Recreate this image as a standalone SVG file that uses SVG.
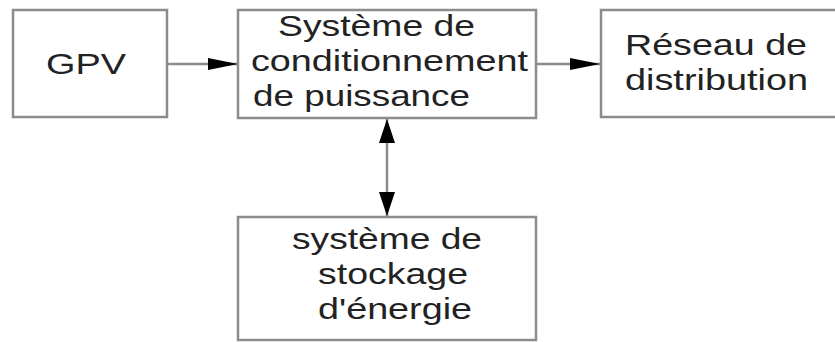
<svg xmlns="http://www.w3.org/2000/svg" width="835" height="342" viewBox="0 0 835 342">
<style>
.box{fill:#ffffff;stroke:#8c8c8c;stroke-width:2.5}
.t{font-family:"Liberation Sans",Arial,sans-serif;font-size:29px;fill:#222222}
.ln{stroke:#8c8c8c;stroke-width:2.5;fill:none}
</style>
<defs>
<marker id="ah" markerUnits="userSpaceOnUse" markerWidth="32" markerHeight="14" refX="30" refY="6" orient="auto" viewBox="0 0 32 14">
<polygon points="0,0 30,6 0,12" fill="#000000"/>
</marker>
<marker id="av" markerUnits="userSpaceOnUse" markerWidth="26" markerHeight="18" refX="24" refY="8" orient="auto-start-reverse" viewBox="0 0 26 18">
<polygon points="0,0 24,8 0,16" fill="#000000"/>
</marker>
</defs>
<rect width="835" height="342" fill="#ffffff"/>
<g id="connectors">
<line class="ln" x1="167" y1="64" x2="238" y2="64" marker-end="url(#ah)"/>
<line class="ln" x1="536" y1="64" x2="600" y2="64" marker-end="url(#ah)"/>
<line class="ln" x1="387" y1="119" x2="387" y2="216" marker-start="url(#av)" marker-end="url(#av)"/>
</g>
<g id="gpv">
<rect class="box" x="13" y="10" width="154" height="107"/>
<text class="t" x="46" y="74" textLength="80" lengthAdjust="spacingAndGlyphs">GPV</text>
</g>
<g id="conditionnement">
<rect class="box" x="238" y="10" width="298" height="108"/>
<text class="t" x="278" y="36" textLength="197" lengthAdjust="spacingAndGlyphs">Système de</text>
<text class="t" x="251" y="71" textLength="277" lengthAdjust="spacingAndGlyphs">conditionnement</text>
<text class="t" x="253" y="106" textLength="217" lengthAdjust="spacingAndGlyphs">de puissance</text>
</g>
<g id="reseau">
<rect class="box" x="601" y="10" width="250" height="107"/>
<text class="t" x="625" y="55" textLength="182" lengthAdjust="spacingAndGlyphs">Réseau de</text>
<text class="t" x="625" y="90" textLength="183" lengthAdjust="spacingAndGlyphs">distribution</text>
</g>
<g id="stockage">
<rect class="box" x="238" y="217" width="298" height="123"/>
<text class="t" x="292" y="249" textLength="190" lengthAdjust="spacingAndGlyphs">système de</text>
<text class="t" x="318" y="284" textLength="150" lengthAdjust="spacingAndGlyphs">stockage</text>
<text class="t" x="318" y="319" textLength="154" lengthAdjust="spacingAndGlyphs">d'énergie</text>
</g>
</svg>
